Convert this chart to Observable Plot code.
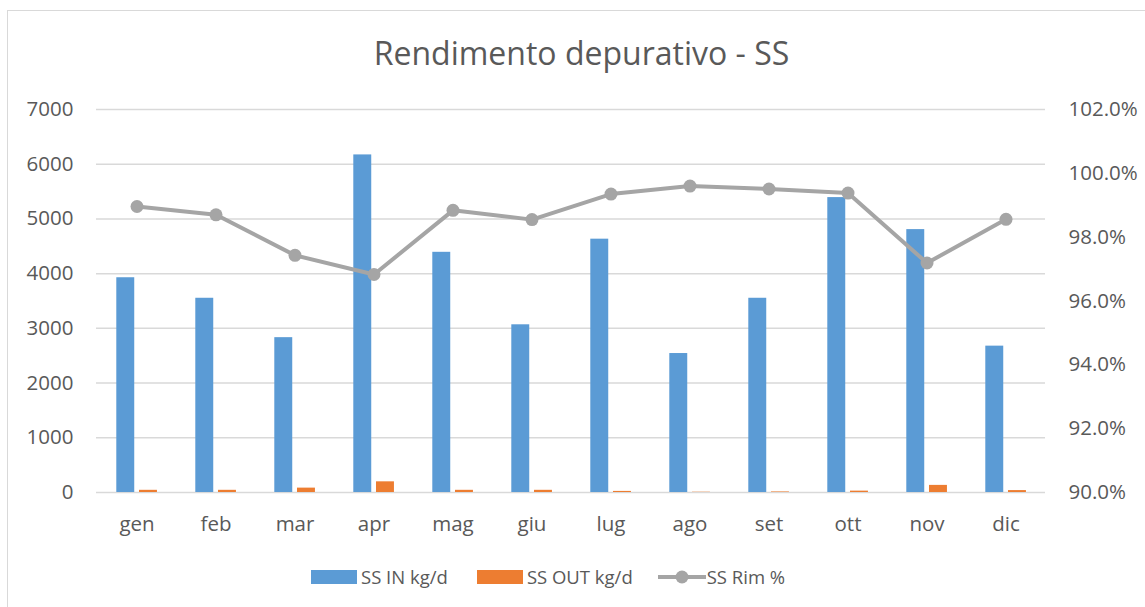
<!DOCTYPE html>
<html>
<head>
<meta charset="utf-8">
<script src="https://cdn.jsdelivr.net/npm/d3@7"></script>
<script src="https://cdn.jsdelivr.net/npm/@observablehq/plot@0.6"></script>
<style>
  html, body { margin: 0; padding: 0; background: #fff; }
  body { width: 1145px; height: 607px; overflow: hidden; position: relative; font-family: "Open Sans", sans-serif; color: #595959; }
  #frame { position: absolute; left: 7px; top: 10px; width: 1200px; height: 700px; border-left: 1.5px solid #d9d9d9; border-top: 1.5px solid #d9d9d9; }
  #title { position: absolute; left: 0; width: 1163px; text-align: center; top: 31px; font-size: 32px; line-height: normal; font-weight: 400; color: #595959; white-space: nowrap; }
  #chart { position: absolute; left: 0; top: 90px; }
  #legend { position: absolute; top: 564px; left: 311px; display: flex; align-items: center; font-size: 18.5px; line-height: 26px; color: #595959; white-space: nowrap; }
  .sw { display: inline-block; width: 46px; height: 14px; margin-right: 4px; }
  .item { display: flex; align-items: center; }
</style>
</head>
<body>
<div id="frame"></div>
<div id="title">Rendimento depurativo - SS</div>
<div id="chart"></div>
<div id="legend"></div>
<script>
const months = ["gen","feb","mar","apr","mag","giu","lug","ago","set","ott","nov","dic"];
const ssIn = [3925, 3550, 2830, 6170, 4390, 3065, 4630, 2540, 3550, 5390, 4805, 2675];
const ssOut = [40, 40, 80, 195, 40, 40, 20, 5, 10, 25, 130, 35];
const ssRim = [98.96, 98.70, 97.43, 96.83, 98.84, 98.55, 99.35, 99.60, 99.51, 99.38, 97.19, 98.56];
const leftTicks = [0, 1000, 2000, 3000, 4000, 5000, 6000, 7000];
const rightTicks = [90, 92, 94, 96, 98, 100, 102];
const seriesNames = ["SS IN kg/d", "SS OUT kg/d", "SS Rim %"];
const colors = ["#5B9BD5", "#ED7D31", "#A5A5A5"];

const yMax = 7000, pMin = 90, pMax = 102;
const toLeft = p => (p - pMin) / (pMax - pMin) * yMax;

const inData = months.map((m, i) => ({month: m, value: ssIn[i]}));
const outData = months.map((m, i) => ({month: m, value: ssOut[i]}));
const rimData = months.map((m, i) => ({month: m, value: toLeft(ssRim[i]), pct: ssRim[i]}));

const W = 1145, H = 460;
const mL = 96, mR = 100;
const band = (W - mL - mR) / months.length;

const chart = Plot.plot({
  width: W,
  height: H,
  marginLeft: mL,
  marginRight: mR,
  marginTop: 19,
  marginBottom: 58,
  style: { fontFamily: "'Open Sans', sans-serif", fontSize: "20.5px", color: "#595959", background: "transparent" },
  x: { domain: months, padding: 0, label: null },
  y: { domain: [0, yMax], label: null },
  marks: [
    Plot.ruleY(leftTicks, { stroke: "#d9d9d9", strokeWidth: 1.5 }),
    Plot.barY(inData, { x: "month", y: "value", fill: colors[0], insetLeft: band * 0.244, insetRight: band * 0.528 }),
    Plot.barY(outData, { x: "month", y: "value", fill: colors[1], insetLeft: band * 0.531, insetRight: band * 0.241 }),
    Plot.line(rimData, { x: "month", y: "value", stroke: colors[2], strokeWidth: 4, curve: "linear" }),
    Plot.dot(rimData, { x: "month", y: "value", fill: colors[2], r: 6.5 }),
    Plot.axisY(leftTicks, { anchor: "left", tickSize: 0, tickPadding: 23, tickFormat: d => String(d), fill: "#595959" }),
    Plot.axisY(rightTicks.map(toLeft), { anchor: "right", tickSize: 0, tickPadding: 23, tickFormat: (d, i) => rightTicks[i].toFixed(1) + "%", fill: "#595959" }),
    Plot.axisX({ tickSize: 0, tickPadding: 24, fill: "#595959" })
  ]
});
document.getElementById("chart").appendChild(chart);

// legend
const legend = document.getElementById("legend");
const gaps = [29, 25, 0];
seriesNames.forEach((name, i) => {
  const it = document.createElement("div");
  it.className = "item";
  it.style.marginRight = gaps[i] + "px";
  if (i < 2) {
    const sw = document.createElement("span");
    sw.className = "sw";
    sw.style.background = colors[i];
    it.appendChild(sw);
  } else {
    const ns = "http://www.w3.org/2000/svg";
    const s = document.createElementNS(ns, "svg");
    s.setAttribute("width", "48"); s.setAttribute("height", "20");
    s.style.marginRight = "1px";
    const l = document.createElementNS(ns, "line");
    l.setAttribute("x1", "0"); l.setAttribute("x2", "48"); l.setAttribute("y1", "10"); l.setAttribute("y2", "10");
    l.setAttribute("stroke", colors[2]); l.setAttribute("stroke-width", "4");
    const c = document.createElementNS(ns, "circle");
    c.setAttribute("cx", "24"); c.setAttribute("cy", "10"); c.setAttribute("r", "6.5"); c.setAttribute("fill", colors[2]);
    s.appendChild(l); s.appendChild(c);
    it.appendChild(s);
  }
  const t = document.createElement("span");
  t.textContent = name;
  it.appendChild(t);
  legend.appendChild(it);
});
</script>
</body>
</html>
